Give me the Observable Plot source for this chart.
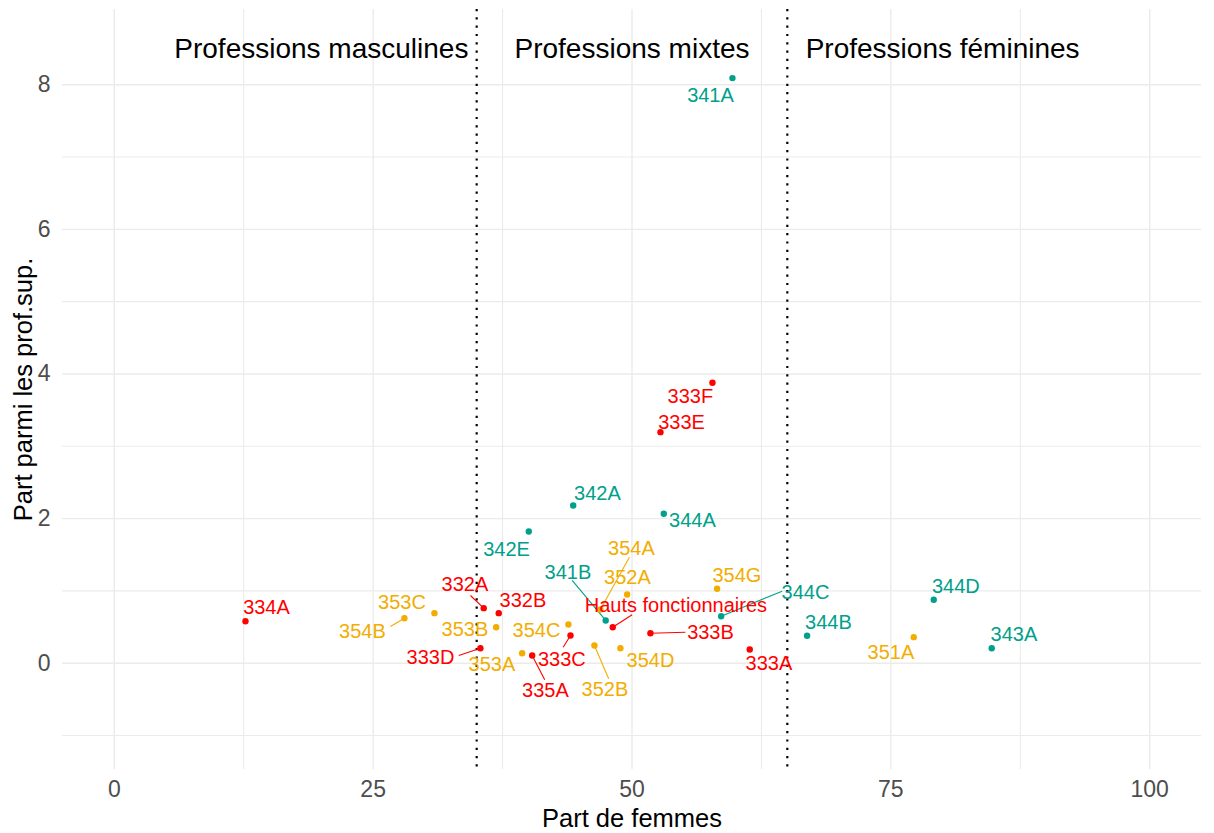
<!DOCTYPE html>
<html>
<head>
<meta charset="utf-8">
<script src="https://cdn.jsdelivr.net/npm/d3@7"></script>
<script src="https://cdn.jsdelivr.net/npm/@observablehq/plot@0.6"></script>
<style>
  html, body { margin: 0; padding: 0; background: #ffffff; }
  #chart { width: 1214px; height: 833px; }
</style>
</head>
<body>
<div id="chart"></div>
<script>
// ---- data ----
const codes = ["341A","333F","333E","342A","344A","342E","332A","332B","353C","354B","353B","354C","333C","333D","353A","335A","352B","354D","341B","Hauts fonctionnaires","352A","354A","354G","344C","333B","333A","344B","344D","351A","343A","334A"];
const groupes = ["34","33","33","34","34","34","33","33","35","35","35","35","33","33","35","33","35","35","34","33","35","35","35","34","33","33","34","34","35","34","33"];
const partFemmes = [59.70,57.77,52.75,44.32,53.07,40.03,35.68,37.13,30.92,28.02,36.88,43.86,44.06,35.36,39.39,40.36,46.37,48.88,47.46,48.14,49.53,46.95,58.22,58.61,51.78,61.37,66.91,79.14,77.21,84.74,12.67];
const partProfSup = [8.091,3.878,3.195,2.181,2.066,1.822,0.761,0.692,0.692,0.622,0.498,0.535,0.383,0.207,0.138,0.106,0.245,0.207,0.591,0.498,0.950,0.743,1.029,0.650,0.415,0.189,0.379,0.877,0.360,0.207,0.581];
// repelled label positions (data units)
const labelX = [57.58,55.64,54.78,46.66,55.84,37.88,33.87,39.47,27.78,23.97,33.87,40.77,43.23,30.54,36.47,41.64,47.39,51.78,43.81,54.24,49.56,49.95,60.13,66.75,57.58,63.22,68.97,81.28,75.01,86.89,14.70];
const labelY = [7.852,3.689,3.329,2.347,1.974,1.573,1.082,0.860,0.833,0.432,0.459,0.452,0.044,0.072,-0.025,-0.385,-0.371,0.030,1.254,0.791,1.178,1.580,1.206,0.971,0.418,-0.011,0.556,1.054,0.148,0.390,0.763];
// leader segment ends (null = no segment)
const segX = [null,null,null,null,null,null,34.40,null,null,26.67,null,null,43.35,33.27,null,41.57,47.75,null,44.22,50.01,null,49.75,null,64.50,55.16,null,null,null,null,null,null];
const segY = [null,null,null,null,null,null,0.936,null,null,0.508,null,null,0.221,0.106,null,-0.230,-0.216,null,1.144,0.669,null,1.466,null,0.996,0.429,null,null,null,null,null,null];

const groupDomain = ["33","34","35"];
const groupColors = ["#FF0000","#00A08A","#F2AD00"];

const zones = ["Professions masculines","Professions mixtes","Professions féminines"];
const zoneX = [20, 50, 80];
const zoneY = 8.5;
const seuils = [35, 65];

const xTicks = [0, 25, 50, 75, 100];
const xMinor = [12.5, 37.5, 62.5, 87.5];
const yTicks = [0, 2, 4, 6, 8];
const yMinor = [-1, 1, 3, 5, 7];

const rows = codes.map((c, i) => ({
  code: c, groupe: groupes[i], x: partFemmes[i], y: partProfSup[i],
  lx: labelX[i], ly: labelY[i], sx: segX[i], sy: segY[i]
}));
const segRows = rows.filter(d => d.sx !== null);
const zoneRows = zones.map((z, i) => ({ z, x: zoneX[i], y: zoneY }));

const font = "'Liberation Sans', Arial, Helvetica, sans-serif";

const chart = Plot.plot({
  width: 1214,
  height: 833,
  marginLeft: 62,
  marginRight: 13,
  marginTop: 9,
  marginBottom: 64,
  x: { domain: [-5, 105] },
  y: { domain: [-1.47, 9.04] },
  color: { domain: groupDomain, range: groupColors },
  style: { fontFamily: font, background: "#ffffff", overflow: "visible" },
  marks: [
    Plot.ruleX(xMinor, { stroke: "#EBEBEB", strokeWidth: 1.1 }),
    Plot.ruleY(yMinor, { stroke: "#EBEBEB", strokeWidth: 1.1 }),
    Plot.ruleX(xTicks, { stroke: "#EBEBEB", strokeWidth: 1.4 }),
    Plot.ruleY(yTicks, { stroke: "#EBEBEB", strokeWidth: 1.4 }),
    Plot.axisX({ ticks: xTicks, tickSize: 0, tickPadding: 11, fontSize: 23, fill: "#4D4D4D", label: null }),
    Plot.axisY({ ticks: yTicks, tickSize: 0, tickPadding: 12, fontSize: 23, fill: "#4D4D4D", label: null }),
    Plot.text(["Part de femmes"], { frameAnchor: "bottom", dy: 49, fontSize: 25.5, fill: "#000000", lineAnchor: "middle", textAnchor: "middle" }),
    Plot.text(["Part parmi les prof.sup."], { frameAnchor: "left", dx: -39, rotate: -90, fontSize: 25.5, fill: "#000000", lineAnchor: "middle", textAnchor: "middle" }),
    Plot.ruleX(seuils, { stroke: "#000000", strokeWidth: 2.2, strokeDasharray: "2.2 6.1" }),
    Plot.text(zoneRows, { x: "x", y: "y", text: "z", fontSize: 28, fill: "#000000", lineAnchor: "middle" }),
    Plot.link(segRows, { x1: "x", y1: "y", x2: "sx", y2: "sy", stroke: "groupe", strokeWidth: 1.1 }),
    Plot.dot(rows, { x: "x", y: "y", fill: "groupe", r: 3.2, stroke: null }),
    Plot.text(rows, { x: "lx", y: "ly", text: "code", fill: "groupe", fontSize: 20, lineAnchor: "middle" })
  ]
});

document.getElementById("chart").appendChild(chart);
</script>
</body>
</html>
